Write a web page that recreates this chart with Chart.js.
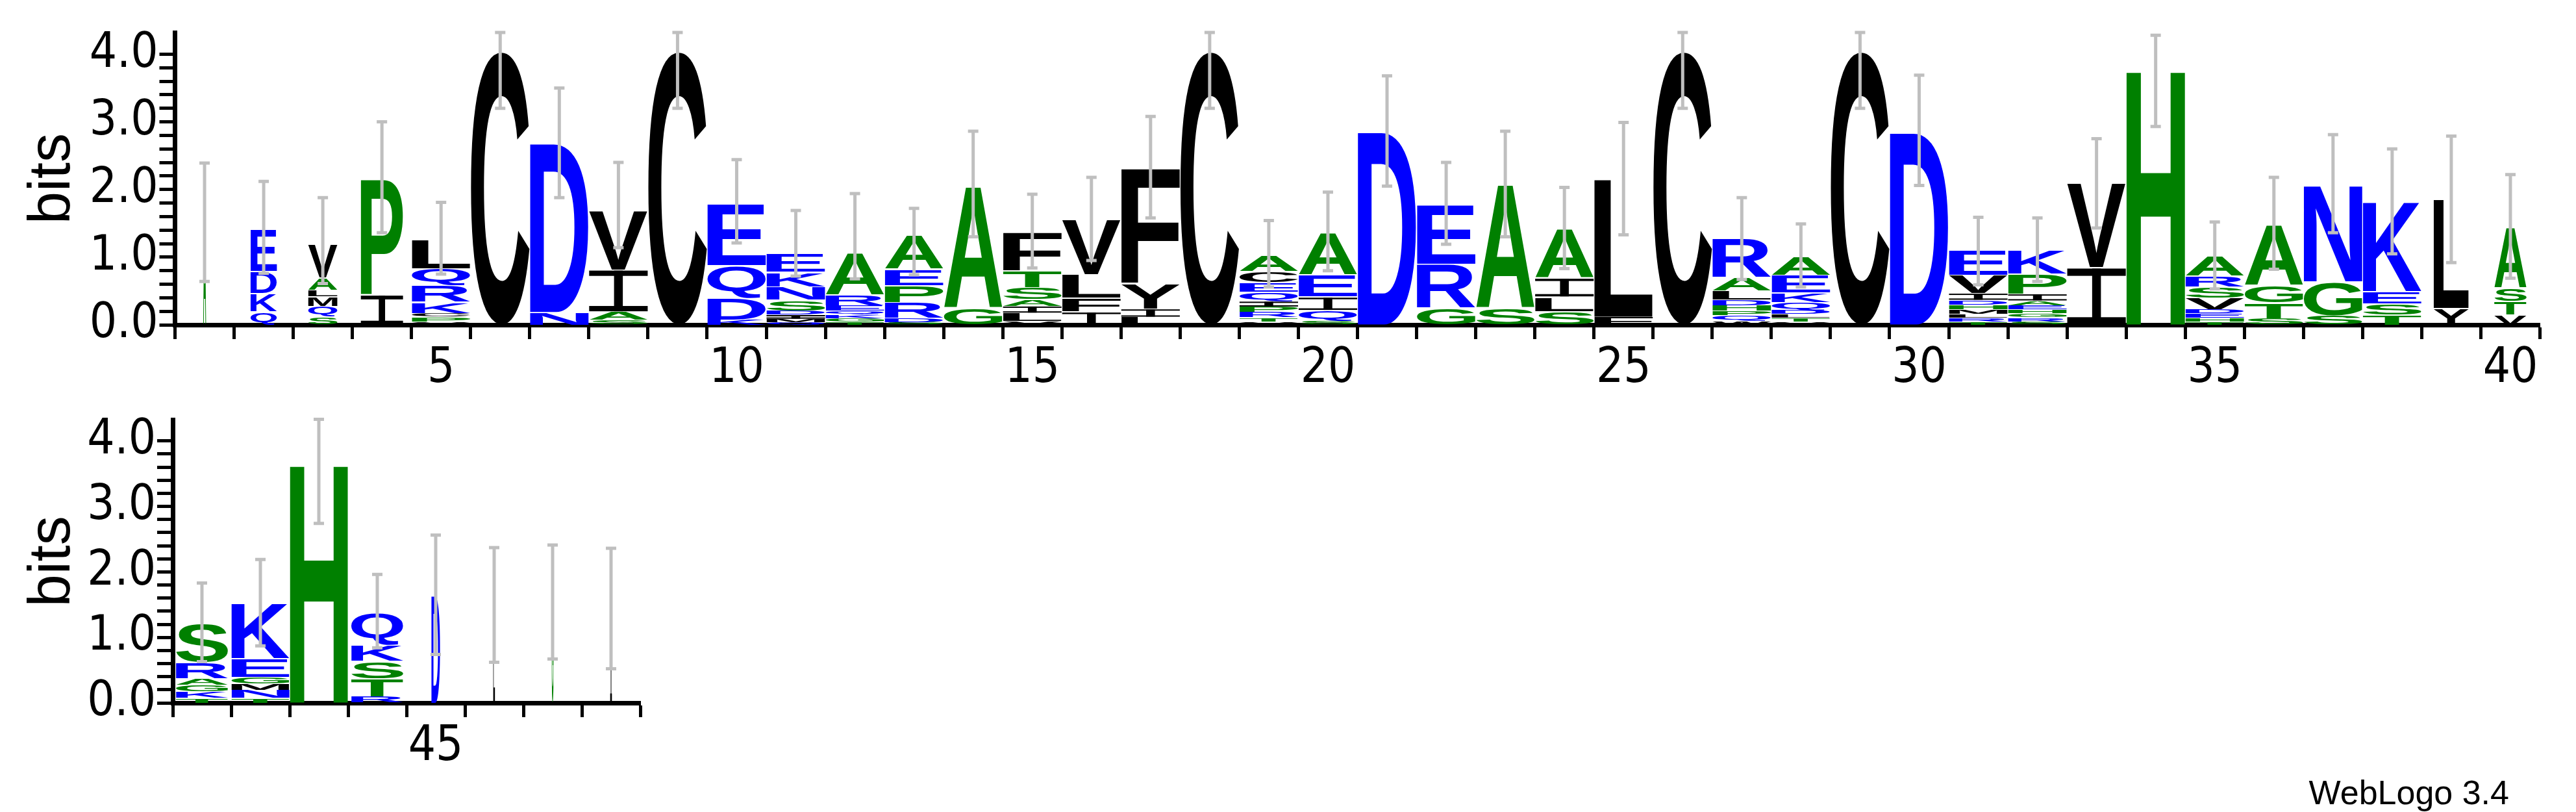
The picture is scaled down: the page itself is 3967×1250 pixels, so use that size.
<!DOCTYPE html>
<html>
<head>
<meta charset="utf-8">
<script src="https://cdn.jsdelivr.net/npm/chart.js@4/dist/chart.umd.min.js"></script>
<style>
  body { margin: 0; background: #fff; width: 3967px; height: 1250px; position: relative; overflow: hidden; }
  .box { position: absolute; }
  #credit { position: absolute; right: 103px; top: 1190px; font: 52px "Liberation Sans", Arial, sans-serif; color: #000; }
</style>
</head>
<body>
<div class="box" style="left:0;top:0;width:3967px;height:600px"><canvas id="logoTop"></canvas></div>
<div class="box" style="left:0;top:600px;width:1000px;height:600px"><canvas id="logoBottom"></canvas></div>
<div id="credit">WebLogo 3.4</div>
<script>
// positions 1..48, letters listed bottom -> top
const positions = [];
for (let p = 1; p <= 48; p++) positions.push(p);

const stackLetters = [
  'A', 'QKDE', 'SQMLAV', 'IP', 'VPCKRQL', 'C', 'ND', 'SAIV', 'C', 'KDQE',
  'QMIDSNKE', 'TGKQERA', 'SDRPEA', 'GA', 'VLIASTF', 'IFLV', 'LIYF', 'C', 'VTRPIQECA', 'SQIEA',
  'D', 'GRE', 'SA', 'SLIA', 'FL', 'C', 'WQPHDLAR', 'VTLDQKEA', 'C', 'D',
  'TRLMHDIVE', 'SRGHEAIPK', 'IV', 'H', 'THEDVSRA', 'STGA', 'SGN', 'TSEK', 'YL', 'VTSA',
  'TKGARS', 'TNMGEK', 'H', 'RTSKQ', 'D', 'L', 'G', 'I'
];
const stackBits = [
  [1.47], [0.2, 0.27, 0.33, 0.62], [0.12, 0.16, 0.14, 0.1, 0.18, 0.5], [0.45, 1.72],
  [0.05, 0.07, 0.05, 0.17, 0.25, 0.25, 0.43], [4.05], [0.19, 2.5], [0.08, 0.12, 0.62, 0.88], [4.05],
  [0.08, 0.32, 0.48, 0.92],
  [0.04, 0.05, 0.06, 0.06, 0.16, 0.2, 0.22, 0.27], [0.05, 0.05, 0.05, 0.06, 0.08, 0.16, 0.62],
  [0.04, 0.06, 0.24, 0.25, 0.24, 0.5], [0.25, 1.8], [0.06, 0.12, 0.1, 0.1, 0.18, 0.25, 0.57],
  [0.2, 0.2, 0.35, 0.82], [0.12, 0.12, 0.38, 1.71], [4.05],
  [0.05, 0.06, 0.08, 0.08, 0.08, 0.14, 0.14, 0.17, 0.24], [0.06, 0.16, 0.2, 0.32, 0.62],
  [2.86], [0.25, 0.65, 0.88], [0.25, 1.83], [0.2, 0.22, 0.28, 0.72], [0.12, 2.04], [4.05],
  [0.06, 0.08, 0.07, 0.08, 0.08, 0.14, 0.2, 0.57], [0.05, 0.06, 0.05, 0.06, 0.12, 0.14, 0.26, 0.28],
  [4.05], [2.85],
  [0.05, 0.06, 0.05, 0.07, 0.07, 0.07, 0.1, 0.27, 0.37], [0.05, 0.06, 0.06, 0.06, 0.06, 0.07, 0.1, 0.3, 0.35],
  [0.85, 1.25], [3.78], [0.05, 0.06, 0.06, 0.06, 0.17, 0.17, 0.16, 0.3], [0.1, 0.23, 0.26, 0.9],
  [0.14, 0.5, 1.43], [0.15, 0.17, 0.18, 1.33], [0.25, 1.62], [0.15, 0.2, 0.2, 0.9],
  [0.08, 0.1, 0.1, 0.1, 0.25, 0.59], [0.08, 0.12, 0.1, 0.1, 0.28, 0.85], [3.66],
  [0.1, 0.27, 0.27, 0.25, 0.5], [1.65], [1.49], [1.53], [1.45]
];
// fraction of the column used by each stack (gappy columns are narrow)
const stackWidth = [
  0.05, 0.45, 0.5, 0.72, 1, 1, 1, 1, 1, 1,
  1, 1, 1, 1, 1, 1, 1, 1, 1, 1,
  1, 1, 1, 1, 1, 1, 1, 1, 1, 1,
  1, 1, 1, 1, 1, 1, 1, 1, 0.6, 0.55,
  0.9, 1, 1, 0.9, 0.15, 0.03, 0.03, 0.03
];
const errLow = [
  0.64, 0.76, 0.61, 1.36, 0.75, 3.2, 1.88, 1.14, 3.2, 1.21,
  0.72, 0.68, 0.74, 1.3, 0.84, 0.95, 1.58, 3.2, 0.56, 0.8,
  2.05, 1.19, 1.3, 0.83, 1.33, 3.2, 0.67, 0.56, 3.2, 2.06,
  0.59, 0.64, 1.43, 2.93, 0.53, 0.82, 1.36, 1.05, 0.92, 0.69,
  0.63, 0.87, 2.74, 0.84, 0.74, 0.62, 0.67, 0.52
];
const errHigh = [
  2.39, 2.12, 1.88, 3.0, 1.81, 4.32, 3.5, 2.4, 4.32, 2.44,
  1.69, 1.94, 1.72, 2.86, 1.93, 2.18, 3.08, 4.32, 1.54, 1.96,
  3.68, 2.4, 2.86, 2.03, 2.99, 4.32, 1.88, 1.49, 4.32, 3.69,
  1.59, 1.58, 2.75, 4.28, 1.52, 2.18, 2.81, 2.6, 2.79, 2.22,
  1.83, 2.19, 4.33, 1.96, 2.56, 2.37, 2.41, 2.36
];
const yTickLabels = ['0.0', '1.0', '2.0', '3.0', '4.0'];

const letterColor = {};
'AGSTPH'.split('').forEach(c => letterColor[c] = '#008000');
'DEKRNQ'.split('').forEach(c => letterColor[c] = '#0000ff');
'CVILMFYW'.split('').forEach(c => letterColor[c] = '#000000');

function drawGlyph(ctx, ch, x0, y0, w, h, color) {
  if (w <= 0 || h <= 0.5) return;
  // leave a hairline gap between stacked letters
  const gap = Math.min(2, h * 0.1);
  y0 += gap; h -= gap;
  ctx.fillStyle = color;
  if (ch === 'I') {
    // serifed I, as in the logo font
    const bar = Math.max(2, Math.min(h * 0.13, 14));
    const stem = Math.max(1, w * 0.15);
    ctx.fillRect(x0, y0, w, bar);
    ctx.fillRect(x0, y0 + h - bar, w, bar);
    ctx.fillRect(x0 + (w - stem) / 2, y0, stem, h);
    return;
  }
  ctx.font = 'bold 200px "Liberation Sans", Arial, sans-serif';
  const m = ctx.measureText(ch);
  const gw = m.actualBoundingBoxLeft + m.actualBoundingBoxRight;
  const gh = m.actualBoundingBoxAscent + m.actualBoundingBoxDescent;
  ctx.save();
  ctx.translate(x0, y0 + h);
  ctx.scale(w / gw, h / gh);
  ctx.textBaseline = 'alphabetic';
  ctx.fillText(ch, m.actualBoundingBoxLeft, -m.actualBoundingBoxDescent);
  ctx.restore();
}

const logoPlugin = {
  id: 'logo',
  afterDatasetsDraw(chart) {
    const ctx = chart.ctx;
    const offs = chart.options.plugins.logo.offset;
    chart.data.datasets.forEach((ds, k) => {
      chart.getDatasetMeta(k).data.forEach((el, i) => {
        if (!ds.data[i]) return;
        const w = el.width * stackWidth[offs + i];
        const top = Math.min(el.y, el.base);
        const h = Math.abs(el.base - el.y);
        drawGlyph(ctx, ds.letters[i], el.x - w / 2, top, w, h, letterColor[ds.letters[i]]);
      });
    });
    // error bars
    const xs = chart.scales.x, ys = chart.scales.y;
    ctx.save();
    ctx.strokeStyle = '#bfbfbf';
    ctx.lineWidth = 5;
    chart.data.labels.forEach((lab, i) => {
      const x = xs.getPixelForValue(i);
      const y1 = ys.getPixelForValue(errLow[offs + i]);
      const y2 = ys.getPixelForValue(errHigh[offs + i]);
      ctx.beginPath();
      ctx.moveTo(x, y1); ctx.lineTo(x, y2);
      ctx.moveTo(x - 8, y1); ctx.lineTo(x + 8, y1);
      ctx.moveTo(x - 8, y2); ctx.lineTo(x + 8, y2);
      ctx.stroke();
    });
    ctx.restore();
  }
};

function makeLogo(id, from, to, leftW, xAxisH, padTop, padRight) {
  const labels = positions.slice(from, to);
  const letters = stackLetters.slice(from, to);
  const bits = stackBits.slice(from, to);
  const layers = Math.max(...letters.map(s => s.length));
  const datasets = [];
  for (let k = 0; k < layers; k++) {
    datasets.push({
      data: bits.map(b => b[k] || 0),
      letters: letters.map(s => s[k] || ''),
      backgroundColor: 'rgba(0,0,0,0)',
      borderWidth: 0,
      barPercentage: 0.99,
      categoryPercentage: 1
    });
  }
  const tickFont = { family: '"Liberation Sans Narrow", "DejaVu Sans Condensed", sans-serif', size: 74 };
  return new Chart(document.getElementById(id), {
    type: 'bar',
    data: { labels: labels, datasets: datasets },
    options: {
      responsive: true,
      maintainAspectRatio: false,
      animation: false,
      layout: { padding: { top: padTop, right: padRight, left: 28, bottom: 0 } },
      plugins: { legend: { display: false }, tooltip: { enabled: false }, logo: { offset: from } },
      scales: {
        x: {
          stacked: true,
          grid: { drawOnChartArea: false, drawTicks: true, tickLength: 22, tickWidth: 5, color: '#000' },
          border: { color: '#000', width: 7 },
          ticks: {
            autoSkip: false, maxRotation: 0, color: '#000', font: tickFont, padding: 2,
            callback: (v, i) => labels[i] % 5 === 0 ? String(labels[i]) : ''
          },
          afterFit: s => { s.height = xAxisH; }
        },
        y: {
          stacked: true,
          min: 0, max: 4.32,
          afterBuildTicks: s => {
            s.ticks = s.ticks.filter(t => Math.abs(t.value * 5 - Math.round(t.value * 5)) < 1e-6);
          },
          grid: { drawOnChartArea: false, drawTicks: true, tickLength: 24, tickWidth: 5, color: '#000' },
          border: { color: '#000', width: 7 },
          ticks: {
            autoSkip: false, stepSize: 0.2, color: '#000', font: tickFont, padding: 2,
            callback: v => {
              const r = Math.round(v);
              return Math.abs(v - r) < 1e-6 ? yTickLabels[r] : '';
            }
          },
          title: { display: true, text: 'bits', color: '#000', font: { family: '"Liberation Sans", Arial, sans-serif', size: 90 }, padding: 0 },
          afterFit: s => { s.width = leftW - 28; }
        }
      }
    },
    plugins: [logoPlugin]
  });
}

makeLogo('logoTop', 0, 40, 269.5, 100, 50, 55.5);
makeLogo('logoBottom', 40, 48, 266, 118, 33, 14);
</script>
</body>
</html>
